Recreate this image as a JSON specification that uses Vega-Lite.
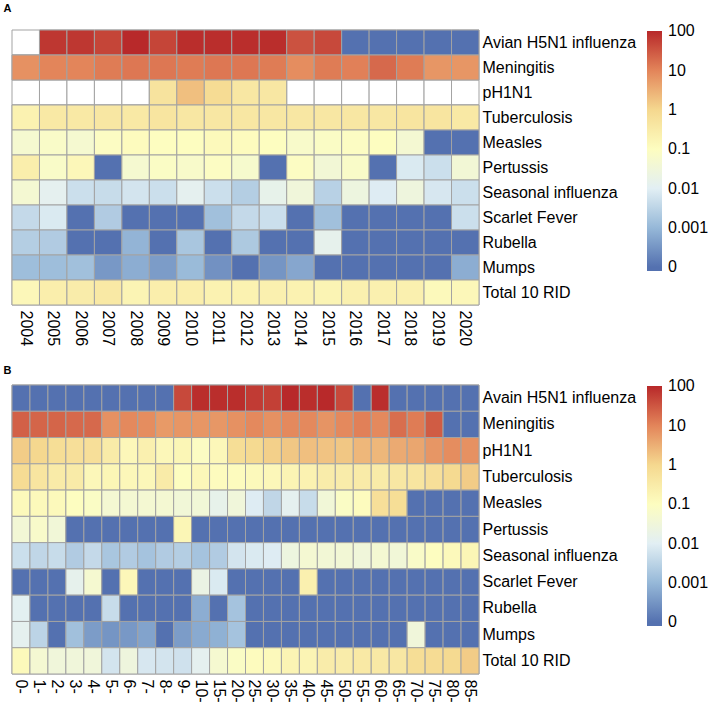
{
  "$schema": "https://vega.github.io/schema/vega-lite/v6.json",
  "padding": {"left": 3, "top": 2, "right": 0, "bottom": 0},
  "background": "white",
  "config": {
    "view": {"stroke": null},
    "axis": {"domain": false, "ticks": false, "labelFont": "Liberation Sans", "labelFontSize": 16, "labelColor": "#000", "title": null, "grid": false},
    "legend": {"labelFont": "Liberation Sans", "labelFontSize": 16, "labelColor": "#000"}
  },
  "datasets": {
    "a": [
      {"d":"Avian H5N1 influenza","x":"2004","v":null},{"d":"Avian H5N1 influenza","x":"2005","v":1.85},{"d":"Avian H5N1 influenza","x":"2006","v":1.85},{"d":"Avian H5N1 influenza","x":"2007","v":1.7},{"d":"Avian H5N1 influenza","x":"2008","v":2.0},{"d":"Avian H5N1 influenza","x":"2009","v":1.7},{"d":"Avian H5N1 influenza","x":"2010","v":1.95},{"d":"Avian H5N1 influenza","x":"2011","v":1.95},{"d":"Avian H5N1 influenza","x":"2012","v":1.95},{"d":"Avian H5N1 influenza","x":"2013","v":1.95},{"d":"Avian H5N1 influenza","x":"2014","v":1.55},{"d":"Avian H5N1 influenza","x":"2015","v":1.65},{"d":"Avian H5N1 influenza","x":"2016","v":-4},{"d":"Avian H5N1 influenza","x":"2017","v":-4},{"d":"Avian H5N1 influenza","x":"2018","v":-4},{"d":"Avian H5N1 influenza","x":"2019","v":-4},{"d":"Avian H5N1 influenza","x":"2020","v":-4},
      {"d":"Meningitis","x":"2004","v":0.85},{"d":"Meningitis","x":"2005","v":1.0},{"d":"Meningitis","x":"2006","v":1.0},{"d":"Meningitis","x":"2007","v":1.1},{"d":"Meningitis","x":"2008","v":1.15},{"d":"Meningitis","x":"2009","v":1.15},{"d":"Meningitis","x":"2010","v":1.1},{"d":"Meningitis","x":"2011","v":1.15},{"d":"Meningitis","x":"2012","v":1.15},{"d":"Meningitis","x":"2013","v":1.1},{"d":"Meningitis","x":"2014","v":0.9},{"d":"Meningitis","x":"2015","v":1.1},{"d":"Meningitis","x":"2016","v":1.05},{"d":"Meningitis","x":"2017","v":1.3},{"d":"Meningitis","x":"2018","v":1.1},{"d":"Meningitis","x":"2019","v":0.8},{"d":"Meningitis","x":"2020","v":0.8},
      {"d":"pH1N1","x":"2004","v":null},{"d":"pH1N1","x":"2005","v":null},{"d":"pH1N1","x":"2006","v":null},{"d":"pH1N1","x":"2007","v":null},{"d":"pH1N1","x":"2008","v":null},{"d":"pH1N1","x":"2009","v":-0.3},{"d":"pH1N1","x":"2010","v":0.3},{"d":"pH1N1","x":"2011","v":-0.1},{"d":"pH1N1","x":"2012","v":-0.4},{"d":"pH1N1","x":"2013","v":-0.4},{"d":"pH1N1","x":"2014","v":null},{"d":"pH1N1","x":"2015","v":null},{"d":"pH1N1","x":"2016","v":null},{"d":"pH1N1","x":"2017","v":null},{"d":"pH1N1","x":"2018","v":null},{"d":"pH1N1","x":"2019","v":null},{"d":"pH1N1","x":"2020","v":null},
      {"d":"Tuberculosis","x":"2004","v":-0.7},{"d":"Tuberculosis","x":"2005","v":-0.45},{"d":"Tuberculosis","x":"2006","v":-0.45},{"d":"Tuberculosis","x":"2007","v":-0.4},{"d":"Tuberculosis","x":"2008","v":-0.45},{"d":"Tuberculosis","x":"2009","v":-0.35},{"d":"Tuberculosis","x":"2010","v":-0.4},{"d":"Tuberculosis","x":"2011","v":-0.4},{"d":"Tuberculosis","x":"2012","v":-0.4},{"d":"Tuberculosis","x":"2013","v":-0.4},{"d":"Tuberculosis","x":"2014","v":-0.4},{"d":"Tuberculosis","x":"2015","v":-0.4},{"d":"Tuberculosis","x":"2016","v":-0.4},{"d":"Tuberculosis","x":"2017","v":-0.4},{"d":"Tuberculosis","x":"2018","v":-0.35},{"d":"Tuberculosis","x":"2019","v":-0.35},{"d":"Tuberculosis","x":"2020","v":-0.45},
      {"d":"Measles","x":"2004","v":-1.3},{"d":"Measles","x":"2005","v":-1.15},{"d":"Measles","x":"2006","v":-1.3},{"d":"Measles","x":"2007","v":-1.05},{"d":"Measles","x":"2008","v":-0.95},{"d":"Measles","x":"2009","v":-1.0},{"d":"Measles","x":"2010","v":-1.0},{"d":"Measles","x":"2011","v":-0.9},{"d":"Measles","x":"2012","v":-0.95},{"d":"Measles","x":"2013","v":-1.0},{"d":"Measles","x":"2014","v":-1.2},{"d":"Measles","x":"2015","v":-1.1},{"d":"Measles","x":"2016","v":-1.05},{"d":"Measles","x":"2017","v":-1.0},{"d":"Measles","x":"2018","v":-1.35},{"d":"Measles","x":"2019","v":-4},{"d":"Measles","x":"2020","v":-4},
      {"d":"Pertussis","x":"2004","v":-0.6},{"d":"Pertussis","x":"2005","v":-1.15},{"d":"Pertussis","x":"2006","v":-0.85},{"d":"Pertussis","x":"2007","v":-4},{"d":"Pertussis","x":"2008","v":-1.3},{"d":"Pertussis","x":"2009","v":-1.1},{"d":"Pertussis","x":"2010","v":-1.2},{"d":"Pertussis","x":"2011","v":-1.05},{"d":"Pertussis","x":"2012","v":-1.25},{"d":"Pertussis","x":"2013","v":-4},{"d":"Pertussis","x":"2014","v":-1.05},{"d":"Pertussis","x":"2015","v":-1.4},{"d":"Pertussis","x":"2016","v":-1.15},{"d":"Pertussis","x":"2017","v":-4},{"d":"Pertussis","x":"2018","v":-2.1},{"d":"Pertussis","x":"2019","v":-2.3},{"d":"Pertussis","x":"2020","v":-1.4},
      {"d":"Seasonal influenza","x":"2004","v":-1.35},{"d":"Seasonal influenza","x":"2005","v":-1.9},{"d":"Seasonal influenza","x":"2006","v":-2.3},{"d":"Seasonal influenza","x":"2007","v":-2.35},{"d":"Seasonal influenza","x":"2008","v":-2.2},{"d":"Seasonal influenza","x":"2009","v":-2.3},{"d":"Seasonal influenza","x":"2010","v":-1.9},{"d":"Seasonal influenza","x":"2011","v":-2.3},{"d":"Seasonal influenza","x":"2012","v":-2.6},{"d":"Seasonal influenza","x":"2013","v":-1.8},{"d":"Seasonal influenza","x":"2014","v":-1.5},{"d":"Seasonal influenza","x":"2015","v":-2.55},{"d":"Seasonal influenza","x":"2016","v":-1.6},{"d":"Seasonal influenza","x":"2017","v":-2.05},{"d":"Seasonal influenza","x":"2018","v":-1.55},{"d":"Seasonal influenza","x":"2019","v":-2.15},{"d":"Seasonal influenza","x":"2020","v":-2.3},
      {"d":"Scarlet Fever","x":"2004","v":-2.4},{"d":"Scarlet Fever","x":"2005","v":-2.1},{"d":"Scarlet Fever","x":"2006","v":-4},{"d":"Scarlet Fever","x":"2007","v":-2.65},{"d":"Scarlet Fever","x":"2008","v":-4},{"d":"Scarlet Fever","x":"2009","v":-4},{"d":"Scarlet Fever","x":"2010","v":-4},{"d":"Scarlet Fever","x":"2011","v":-2.85},{"d":"Scarlet Fever","x":"2012","v":-2.4},{"d":"Scarlet Fever","x":"2013","v":-2.3},{"d":"Scarlet Fever","x":"2014","v":-4},{"d":"Scarlet Fever","x":"2015","v":-2.85},{"d":"Scarlet Fever","x":"2016","v":-4},{"d":"Scarlet Fever","x":"2017","v":-4},{"d":"Scarlet Fever","x":"2018","v":-4},{"d":"Scarlet Fever","x":"2019","v":-4},{"d":"Scarlet Fever","x":"2020","v":-2.3},
      {"d":"Rubella","x":"2004","v":-2.6},{"d":"Rubella","x":"2005","v":-2.65},{"d":"Rubella","x":"2006","v":-4},{"d":"Rubella","x":"2007","v":-4},{"d":"Rubella","x":"2008","v":-3.05},{"d":"Rubella","x":"2009","v":-4},{"d":"Rubella","x":"2010","v":-2.75},{"d":"Rubella","x":"2011","v":-4},{"d":"Rubella","x":"2012","v":-2.7},{"d":"Rubella","x":"2013","v":-4},{"d":"Rubella","x":"2014","v":-4},{"d":"Rubella","x":"2015","v":-1.85},{"d":"Rubella","x":"2016","v":-4},{"d":"Rubella","x":"2017","v":-4},{"d":"Rubella","x":"2018","v":-4},{"d":"Rubella","x":"2019","v":-4},{"d":"Rubella","x":"2020","v":-4},
      {"d":"Mumps","x":"2004","v":-2.9},{"d":"Mumps","x":"2005","v":-2.9},{"d":"Mumps","x":"2006","v":-2.85},{"d":"Mumps","x":"2007","v":-3.45},{"d":"Mumps","x":"2008","v":-3.15},{"d":"Mumps","x":"2009","v":-3.4},{"d":"Mumps","x":"2010","v":-2.95},{"d":"Mumps","x":"2011","v":-3.55},{"d":"Mumps","x":"2012","v":-4},{"d":"Mumps","x":"2013","v":-3.5},{"d":"Mumps","x":"2014","v":-3.25},{"d":"Mumps","x":"2015","v":-4},{"d":"Mumps","x":"2016","v":-4},{"d":"Mumps","x":"2017","v":-4},{"d":"Mumps","x":"2018","v":-4},{"d":"Mumps","x":"2019","v":-4},{"d":"Mumps","x":"2020","v":-3.15},
      {"d":"Total 10 RID","x":"2004","v":-0.85},{"d":"Total 10 RID","x":"2005","v":-0.6},{"d":"Total 10 RID","x":"2006","v":-0.55},{"d":"Total 10 RID","x":"2007","v":-0.45},{"d":"Total 10 RID","x":"2008","v":-0.75},{"d":"Total 10 RID","x":"2009","v":-0.6},{"d":"Total 10 RID","x":"2010","v":-0.6},{"d":"Total 10 RID","x":"2011","v":-0.7},{"d":"Total 10 RID","x":"2012","v":-0.7},{"d":"Total 10 RID","x":"2013","v":-0.65},{"d":"Total 10 RID","x":"2014","v":-0.7},{"d":"Total 10 RID","x":"2015","v":-0.75},{"d":"Total 10 RID","x":"2016","v":-0.65},{"d":"Total 10 RID","x":"2017","v":-0.65},{"d":"Total 10 RID","x":"2018","v":-0.65},{"d":"Total 10 RID","x":"2019","v":-0.9},{"d":"Total 10 RID","x":"2020","v":-0.85}
    ],
    "b": [
      {"d":"Avain H5N1 influenza","x":"0-","v":-4},{"d":"Avain H5N1 influenza","x":"1-","v":-4},{"d":"Avain H5N1 influenza","x":"2-","v":-4},{"d":"Avain H5N1 influenza","x":"3-","v":-4},{"d":"Avain H5N1 influenza","x":"4-","v":-4},{"d":"Avain H5N1 influenza","x":"5-","v":-4},{"d":"Avain H5N1 influenza","x":"6-","v":-4},{"d":"Avain H5N1 influenza","x":"7-","v":-4},{"d":"Avain H5N1 influenza","x":"8-","v":-4},{"d":"Avain H5N1 influenza","x":"9-","v":1.65},{"d":"Avain H5N1 influenza","x":"10-","v":1.95},{"d":"Avain H5N1 influenza","x":"15-","v":1.95},{"d":"Avain H5N1 influenza","x":"20-","v":1.95},{"d":"Avain H5N1 influenza","x":"25-","v":1.8},{"d":"Avain H5N1 influenza","x":"30-","v":1.75},{"d":"Avain H5N1 influenza","x":"35-","v":2.0},{"d":"Avain H5N1 influenza","x":"40-","v":1.95},{"d":"Avain H5N1 influenza","x":"45-","v":2.0},{"d":"Avain H5N1 influenza","x":"50-","v":1.65},{"d":"Avain H5N1 influenza","x":"55-","v":-4},{"d":"Avain H5N1 influenza","x":"60-","v":1.95},{"d":"Avain H5N1 influenza","x":"65-","v":-4},{"d":"Avain H5N1 influenza","x":"70-","v":-4},{"d":"Avain H5N1 influenza","x":"75-","v":-4},{"d":"Avain H5N1 influenza","x":"80-","v":-4},{"d":"Avain H5N1 influenza","x":"85-","v":-4},
      {"d":"Meningitis","x":"0-","v":1.4},{"d":"Meningitis","x":"1-","v":1.35},{"d":"Meningitis","x":"2-","v":1.35},{"d":"Meningitis","x":"3-","v":1.3},{"d":"Meningitis","x":"4-","v":1.3},{"d":"Meningitis","x":"5-","v":0.85},{"d":"Meningitis","x":"6-","v":0.95},{"d":"Meningitis","x":"7-","v":0.9},{"d":"Meningitis","x":"8-","v":0.75},{"d":"Meningitis","x":"9-","v":0.8},{"d":"Meningitis","x":"10-","v":0.8},{"d":"Meningitis","x":"15-","v":0.78},{"d":"Meningitis","x":"20-","v":0.85},{"d":"Meningitis","x":"25-","v":0.95},{"d":"Meningitis","x":"30-","v":0.85},{"d":"Meningitis","x":"35-","v":0.95},{"d":"Meningitis","x":"40-","v":0.95},{"d":"Meningitis","x":"45-","v":0.82},{"d":"Meningitis","x":"50-","v":0.95},{"d":"Meningitis","x":"55-","v":1.05},{"d":"Meningitis","x":"60-","v":0.95},{"d":"Meningitis","x":"65-","v":1.25},{"d":"Meningitis","x":"70-","v":1.1},{"d":"Meningitis","x":"75-","v":1.45},{"d":"Meningitis","x":"80-","v":-4},{"d":"Meningitis","x":"85-","v":-4},
      {"d":"pH1N1","x":"0-","v":0.15},{"d":"pH1N1","x":"1-","v":0.0},{"d":"pH1N1","x":"2-","v":-0.15},{"d":"pH1N1","x":"3-","v":-0.2},{"d":"pH1N1","x":"4-","v":-0.2},{"d":"pH1N1","x":"5-","v":-0.5},{"d":"pH1N1","x":"6-","v":-0.85},{"d":"pH1N1","x":"7-","v":-0.65},{"d":"pH1N1","x":"8-","v":-0.85},{"d":"pH1N1","x":"9-","v":-0.8},{"d":"pH1N1","x":"10-","v":-1.05},{"d":"pH1N1","x":"15-","v":-0.85},{"d":"pH1N1","x":"20-","v":-0.15},{"d":"pH1N1","x":"25-","v":-0.05},{"d":"pH1N1","x":"30-","v":0.1},{"d":"pH1N1","x":"35-","v":0.2},{"d":"pH1N1","x":"40-","v":0.3},{"d":"pH1N1","x":"45-","v":0.25},{"d":"pH1N1","x":"50-","v":0.2},{"d":"pH1N1","x":"55-","v":0.4},{"d":"pH1N1","x":"60-","v":0.4},{"d":"pH1N1","x":"65-","v":0.55},{"d":"pH1N1","x":"70-","v":0.6},{"d":"pH1N1","x":"75-","v":0.8},{"d":"pH1N1","x":"80-","v":0.9},{"d":"pH1N1","x":"85-","v":0.85},
      {"d":"Tuberculosis","x":"0-","v":-0.1},{"d":"Tuberculosis","x":"1-","v":-0.35},{"d":"Tuberculosis","x":"2-","v":-0.5},{"d":"Tuberculosis","x":"3-","v":-0.5},{"d":"Tuberculosis","x":"4-","v":-0.85},{"d":"Tuberculosis","x":"5-","v":-0.8},{"d":"Tuberculosis","x":"6-","v":-0.85},{"d":"Tuberculosis","x":"7-","v":-0.85},{"d":"Tuberculosis","x":"8-","v":-0.5},{"d":"Tuberculosis","x":"9-","v":-1.0},{"d":"Tuberculosis","x":"10-","v":-0.85},{"d":"Tuberculosis","x":"15-","v":-0.95},{"d":"Tuberculosis","x":"20-","v":-0.95},{"d":"Tuberculosis","x":"25-","v":-0.9},{"d":"Tuberculosis","x":"30-","v":-0.85},{"d":"Tuberculosis","x":"35-","v":-0.75},{"d":"Tuberculosis","x":"40-","v":-0.7},{"d":"Tuberculosis","x":"45-","v":-0.55},{"d":"Tuberculosis","x":"50-","v":-0.55},{"d":"Tuberculosis","x":"55-","v":-0.5},{"d":"Tuberculosis","x":"60-","v":-0.5},{"d":"Tuberculosis","x":"65-","v":-0.4},{"d":"Tuberculosis","x":"70-","v":-0.35},{"d":"Tuberculosis","x":"75-","v":-0.2},{"d":"Tuberculosis","x":"80-","v":-0.05},{"d":"Tuberculosis","x":"85-","v":0.15},
      {"d":"Measles","x":"0-","v":-0.9},{"d":"Measles","x":"1-","v":-0.9},{"d":"Measles","x":"2-","v":-0.9},{"d":"Measles","x":"3-","v":-1.0},{"d":"Measles","x":"4-","v":-1.1},{"d":"Measles","x":"5-","v":-1.35},{"d":"Measles","x":"6-","v":-1.35},{"d":"Measles","x":"7-","v":-1.35},{"d":"Measles","x":"8-","v":-1.35},{"d":"Measles","x":"9-","v":-1.45},{"d":"Measles","x":"10-","v":-1.45},{"d":"Measles","x":"15-","v":-1.8},{"d":"Measles","x":"20-","v":-1.5},{"d":"Measles","x":"25-","v":-2.05},{"d":"Measles","x":"30-","v":-2.45},{"d":"Measles","x":"35-","v":-1.9},{"d":"Measles","x":"40-","v":-2.35},{"d":"Measles","x":"45-","v":-1.45},{"d":"Measles","x":"50-","v":-1.1},{"d":"Measles","x":"55-","v":-0.95},{"d":"Measles","x":"60-","v":-0.2},{"d":"Measles","x":"65-","v":-0.15},{"d":"Measles","x":"70-","v":-4},{"d":"Measles","x":"75-","v":-4},{"d":"Measles","x":"80-","v":-4},{"d":"Measles","x":"85-","v":-4},
      {"d":"Pertussis","x":"0-","v":-1.4},{"d":"Pertussis","x":"1-","v":-1.2},{"d":"Pertussis","x":"2-","v":-1.45},{"d":"Pertussis","x":"3-","v":-4},{"d":"Pertussis","x":"4-","v":-4},{"d":"Pertussis","x":"5-","v":-4},{"d":"Pertussis","x":"6-","v":-4},{"d":"Pertussis","x":"7-","v":-4},{"d":"Pertussis","x":"8-","v":-4},{"d":"Pertussis","x":"9-","v":-0.8},{"d":"Pertussis","x":"10-","v":-4},{"d":"Pertussis","x":"15-","v":-4},{"d":"Pertussis","x":"20-","v":-4},{"d":"Pertussis","x":"25-","v":-4},{"d":"Pertussis","x":"30-","v":-4},{"d":"Pertussis","x":"35-","v":-4},{"d":"Pertussis","x":"40-","v":-4},{"d":"Pertussis","x":"45-","v":-4},{"d":"Pertussis","x":"50-","v":-4},{"d":"Pertussis","x":"55-","v":-4},{"d":"Pertussis","x":"60-","v":-4},{"d":"Pertussis","x":"65-","v":-4},{"d":"Pertussis","x":"70-","v":-4},{"d":"Pertussis","x":"75-","v":-4},{"d":"Pertussis","x":"80-","v":-4},{"d":"Pertussis","x":"85-","v":-4},
      {"d":"Seasonal influenza","x":"0-","v":-2.3},{"d":"Seasonal influenza","x":"1-","v":-2.45},{"d":"Seasonal influenza","x":"2-","v":-2.35},{"d":"Seasonal influenza","x":"3-","v":-2.65},{"d":"Seasonal influenza","x":"4-","v":-2.4},{"d":"Seasonal influenza","x":"5-","v":-2.75},{"d":"Seasonal influenza","x":"6-","v":-2.65},{"d":"Seasonal influenza","x":"7-","v":-2.8},{"d":"Seasonal influenza","x":"8-","v":-2.65},{"d":"Seasonal influenza","x":"9-","v":-2.6},{"d":"Seasonal influenza","x":"10-","v":-2.8},{"d":"Seasonal influenza","x":"15-","v":-2.65},{"d":"Seasonal influenza","x":"20-","v":-2.2},{"d":"Seasonal influenza","x":"25-","v":-2.1},{"d":"Seasonal influenza","x":"30-","v":-2.05},{"d":"Seasonal influenza","x":"35-","v":-1.6},{"d":"Seasonal influenza","x":"40-","v":-1.35},{"d":"Seasonal influenza","x":"45-","v":-1.4},{"d":"Seasonal influenza","x":"50-","v":-1.4},{"d":"Seasonal influenza","x":"55-","v":-1.5},{"d":"Seasonal influenza","x":"60-","v":-1.35},{"d":"Seasonal influenza","x":"65-","v":-1.45},{"d":"Seasonal influenza","x":"70-","v":-1.15},{"d":"Seasonal influenza","x":"75-","v":-1.0},{"d":"Seasonal influenza","x":"80-","v":-0.9},{"d":"Seasonal influenza","x":"85-","v":-0.8},
      {"d":"Scarlet Fever","x":"0-","v":-4},{"d":"Scarlet Fever","x":"1-","v":-4},{"d":"Scarlet Fever","x":"2-","v":-4},{"d":"Scarlet Fever","x":"3-","v":-1.85},{"d":"Scarlet Fever","x":"4-","v":-1.3},{"d":"Scarlet Fever","x":"5-","v":-4},{"d":"Scarlet Fever","x":"6-","v":-0.85},{"d":"Scarlet Fever","x":"7-","v":-4},{"d":"Scarlet Fever","x":"8-","v":-4},{"d":"Scarlet Fever","x":"9-","v":-4},{"d":"Scarlet Fever","x":"10-","v":-1.7},{"d":"Scarlet Fever","x":"15-","v":-2.1},{"d":"Scarlet Fever","x":"20-","v":-4},{"d":"Scarlet Fever","x":"25-","v":-4},{"d":"Scarlet Fever","x":"30-","v":-4},{"d":"Scarlet Fever","x":"35-","v":-4},{"d":"Scarlet Fever","x":"40-","v":-0.65},{"d":"Scarlet Fever","x":"45-","v":-4},{"d":"Scarlet Fever","x":"50-","v":-4},{"d":"Scarlet Fever","x":"55-","v":-4},{"d":"Scarlet Fever","x":"60-","v":-4},{"d":"Scarlet Fever","x":"65-","v":-4},{"d":"Scarlet Fever","x":"70-","v":-4},{"d":"Scarlet Fever","x":"75-","v":-4},{"d":"Scarlet Fever","x":"80-","v":-4},{"d":"Scarlet Fever","x":"85-","v":-4},
      {"d":"Rubella","x":"0-","v":-1.95},{"d":"Rubella","x":"1-","v":-4},{"d":"Rubella","x":"2-","v":-4},{"d":"Rubella","x":"3-","v":-4},{"d":"Rubella","x":"4-","v":-4},{"d":"Rubella","x":"5-","v":-2.35},{"d":"Rubella","x":"6-","v":-4},{"d":"Rubella","x":"7-","v":-4},{"d":"Rubella","x":"8-","v":-4},{"d":"Rubella","x":"9-","v":-4},{"d":"Rubella","x":"10-","v":-3.15},{"d":"Rubella","x":"15-","v":-4},{"d":"Rubella","x":"20-","v":-2.8},{"d":"Rubella","x":"25-","v":-4},{"d":"Rubella","x":"30-","v":-4},{"d":"Rubella","x":"35-","v":-4},{"d":"Rubella","x":"40-","v":-4},{"d":"Rubella","x":"45-","v":-4},{"d":"Rubella","x":"50-","v":-4},{"d":"Rubella","x":"55-","v":-4},{"d":"Rubella","x":"60-","v":-4},{"d":"Rubella","x":"65-","v":-4},{"d":"Rubella","x":"70-","v":-4},{"d":"Rubella","x":"75-","v":-4},{"d":"Rubella","x":"80-","v":-4},{"d":"Rubella","x":"85-","v":-4},
      {"d":"Mumps","x":"0-","v":-1.9},{"d":"Mumps","x":"1-","v":-2.5},{"d":"Mumps","x":"2-","v":-4},{"d":"Mumps","x":"3-","v":-2.85},{"d":"Mumps","x":"4-","v":-3.4},{"d":"Mumps","x":"5-","v":-3.5},{"d":"Mumps","x":"6-","v":-3.45},{"d":"Mumps","x":"7-","v":-3.3},{"d":"Mumps","x":"8-","v":-4},{"d":"Mumps","x":"9-","v":-3.4},{"d":"Mumps","x":"10-","v":-3.2},{"d":"Mumps","x":"15-","v":-3.1},{"d":"Mumps","x":"20-","v":-2.8},{"d":"Mumps","x":"25-","v":-4},{"d":"Mumps","x":"30-","v":-4},{"d":"Mumps","x":"35-","v":-4},{"d":"Mumps","x":"40-","v":-4},{"d":"Mumps","x":"45-","v":-4},{"d":"Mumps","x":"50-","v":-4},{"d":"Mumps","x":"55-","v":-4},{"d":"Mumps","x":"60-","v":-4},{"d":"Mumps","x":"65-","v":-4},{"d":"Mumps","x":"70-","v":-1.5},{"d":"Mumps","x":"75-","v":-4},{"d":"Mumps","x":"80-","v":-4},{"d":"Mumps","x":"85-","v":-4},
      {"d":"Total 10 RID","x":"0-","v":-0.9},{"d":"Total 10 RID","x":"1-","v":-1.35},{"d":"Total 10 RID","x":"2-","v":-1.5},{"d":"Total 10 RID","x":"3-","v":-1.5},{"d":"Total 10 RID","x":"4-","v":-1.5},{"d":"Total 10 RID","x":"5-","v":-2.2},{"d":"Total 10 RID","x":"6-","v":-1.55},{"d":"Total 10 RID","x":"7-","v":-2.15},{"d":"Total 10 RID","x":"8-","v":-2.2},{"d":"Total 10 RID","x":"9-","v":-2.25},{"d":"Total 10 RID","x":"10-","v":-1.9},{"d":"Total 10 RID","x":"15-","v":-1.3},{"d":"Total 10 RID","x":"20-","v":-1.1},{"d":"Total 10 RID","x":"25-","v":-0.95},{"d":"Total 10 RID","x":"30-","v":-0.9},{"d":"Total 10 RID","x":"35-","v":-0.75},{"d":"Total 10 RID","x":"40-","v":-0.75},{"d":"Total 10 RID","x":"45-","v":-0.55},{"d":"Total 10 RID","x":"50-","v":-0.55},{"d":"Total 10 RID","x":"55-","v":-0.45},{"d":"Total 10 RID","x":"60-","v":-0.45},{"d":"Total 10 RID","x":"65-","v":-0.4},{"d":"Total 10 RID","x":"70-","v":-0.15},{"d":"Total 10 RID","x":"75-","v":-0.1},{"d":"Total 10 RID","x":"80-","v":-0.05},{"d":"Total 10 RID","x":"85-","v":0.15}
    ]
  },
  "resolve": {"legend": {"color": "independent"}},
  "spacing": 18,
  "vconcat": [
    {
      "title": {"text": "A", "anchor": "start", "fontSize": 11, "fontWeight": "bold", "font": "Liberation Sans", "color": "#000", "dx": -8, "offset": 16},
      "width": 467, "height": 275,
      "data": {"name": "a"},
      "encoding": {
        "x": {"field": "x", "type": "ordinal", "sort": null, "scale": {"paddingInner": 0, "paddingOuter": 0}, "axis": {"labelAngle": 90, "labelPadding": 5}},
        "y": {"field": "d", "type": "nominal", "sort": null, "scale": {"paddingInner": 0, "paddingOuter": 0}, "axis": {"orient": "right", "labelPadding": 3}}
      },
      "layer": [
        {"mark": {"type": "rect", "fill": "white", "stroke": "#a3a3a3", "strokeWidth": 1}},
        {"transform": [{"filter": "datum.v != null"}],
         "mark": {"type": "rect", "stroke": "#a3a3a3", "strokeWidth": 1},
         "encoding": {"color": {"field": "v", "type": "quantitative",
           "scale": {"type": "linear", "domain": [-4.1, -4, -3, -2, -1, 0, 1, 2, 2.01], "range": ["#5471b0", "#5471b0", "#96b8d8", "#e2eff4", "#fdfdc0", "#f5d88f", "#e3855a", "#b8292a", "#b8292a"], "interpolate": "rgb"},
           "legend": {"orient": "none", "legendX": 635, "legendY": 1, "direction": "vertical", "gradientLength": 240, "gradientThickness": 15, "gradientStrokeWidth": 0, "title": null, "values": [-4, -3, -2, -1, 0, 1, 2], "labelOffset": 6, "labelOverlap": false,
             "labelExpr": "datum.value == -4 ? '0' : datum.value == -3 ? '0.001' : datum.value == -2 ? '0.01' : datum.value == -1 ? '0.1' : datum.value == 0 ? '1' : datum.value == 1 ? '10' : '100'"}}}}
      ]
    },
    {
      "title": {"text": "B", "anchor": "start", "fontSize": 11, "fontWeight": "bold", "font": "Liberation Sans", "color": "#000", "dx": -8, "offset": 9},
      "width": 467, "height": 289,
      "data": {"name": "b"},
      "encoding": {
        "x": {"field": "x", "type": "ordinal", "sort": null, "scale": {"paddingInner": 0, "paddingOuter": 0}, "axis": {"labelAngle": 90, "labelPadding": 5}},
        "y": {"field": "d", "type": "nominal", "sort": null, "scale": {"paddingInner": 0, "paddingOuter": 0}, "axis": {"orient": "right", "labelPadding": 3}}
      },
      "layer": [
        {"mark": {"type": "rect", "fill": "white", "stroke": "#a3a3a3", "strokeWidth": 1}},
        {"transform": [{"filter": "datum.v != null"}],
         "mark": {"type": "rect", "stroke": "#a3a3a3", "strokeWidth": 1},
         "encoding": {"color": {"field": "v", "type": "quantitative",
           "scale": {"type": "linear", "domain": [-4.1, -4, -3, -2, -1, 0, 1, 2, 2.01], "range": ["#5471b0", "#5471b0", "#96b8d8", "#e2eff4", "#fdfdc0", "#f5d88f", "#e3855a", "#b8292a", "#b8292a"], "interpolate": "rgb"},
           "legend": {"orient": "none", "legendX": 635, "legendY": 1, "direction": "vertical", "gradientLength": 240, "gradientThickness": 15, "gradientStrokeWidth": 0, "title": null, "values": [-4, -3, -2, -1, 0, 1, 2], "labelOffset": 6, "labelOverlap": false,
             "labelExpr": "datum.value == -4 ? '0' : datum.value == -3 ? '0.001' : datum.value == -2 ? '0.01' : datum.value == -1 ? '0.1' : datum.value == 0 ? '1' : datum.value == 1 ? '10' : '100'"}}}}
      ]
    }
  ]
}
